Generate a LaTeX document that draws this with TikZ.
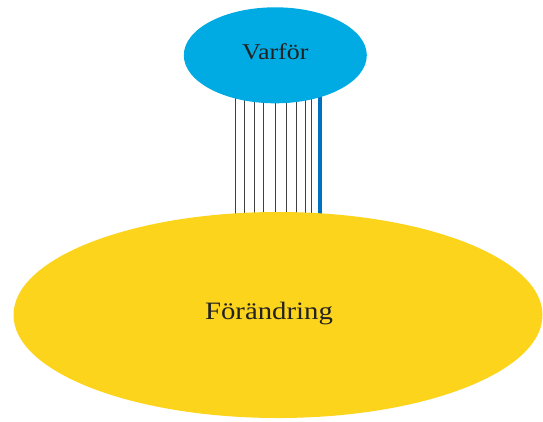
\documentclass[tikz,border=0pt]{standalone}
\usepackage{fontspec}
\setmainfont{Liberation Serif}[FakeStretch=1.15]
\usetikzlibrary{backgrounds,calc,shapes.geometric}
\definecolor{skyb}{HTML}{00ABE3}
\definecolor{sunY}{HTML}{FDD41C}
\definecolor{lineB}{HTML}{0070C0}
\definecolor{txt}{HTML}{222222}
\tikzset{
  bubble/.style={ellipse, inner sep=0pt, text=txt, text height=14pt, text depth=5pt},
  thread/.style={draw=black!75, line width=1pt},
  threadB/.style={draw=lineB, line width=3.3pt},
}
\begin{document}
\begin{tikzpicture}[x=1pt,y=-1pt]
\useasboundingbox (0,0) rectangle (543,421);
\node[bubble, fill=skyb, minimum width=183, minimum height=96,
      font=\fontsize{22.6}{26}\selectfont] (v) at (275.3,55.3) {Varför};
\node[bubble, fill=sunY, minimum width=529, minimum height=206,
      font=\fontsize{25}{28}\selectfont] (f) at (278,315) {\hspace*{-18pt}Förändring};
\begin{scope}[on background layer]
\foreach \dx in {-39.8,-31,-21.3,-12,-0.3,10.7,21.4,29.7,36.4} {
  \draw[thread] ($(v.center)+(\dx,0)$) -- ($(v.center |- f.center)+(\dx,0)$);
}
\draw[threadB] ($(v.center)+(44.7,0)$) -- ($(v.center |- f.center)+(44.7,0)$);
\end{scope}
\end{tikzpicture}
\end{document}
